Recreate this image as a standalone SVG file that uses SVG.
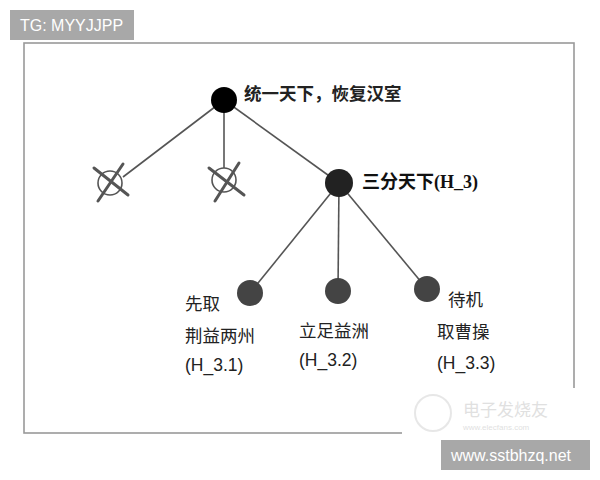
<svg xmlns="http://www.w3.org/2000/svg" width="600" height="480" viewBox="0 0 600 480">
<style>
.lbl{font-family:"Liberation Sans","Noto Sans CJK SC",sans-serif;font-size:17.5px;fill:#222;}
.ser{font-family:"Liberation Serif","Noto Sans CJK SC",serif;font-size:18px;fill:#111;font-weight:bold;}
.edge{stroke:#555;stroke-width:1.6;fill:none;}
.cross{stroke:#555;stroke-width:3;stroke-linecap:round;}
.ring{stroke:#555;stroke-width:1.6;fill:#fff;}
.leaf{fill:#444;}
.wm{font-family:"Liberation Sans",sans-serif;font-size:16px;fill:#fff;}
</style>
<rect x="0" y="0" width="600" height="480" fill="#fff"/>
<rect x="24" y="43" width="550" height="390" fill="none" stroke="#999" stroke-width="1.6"/>
<g id="connectors">
<line class="edge" x1="224" y1="100" x2="123" y2="177"/>
<line class="edge" x1="224" y1="100" x2="224" y2="168"/>
<line class="edge" x1="224" y1="100" x2="339" y2="183"/>
<line class="edge" x1="339" y1="183" x2="250" y2="293"/>
<line class="edge" x1="339" y1="183" x2="338" y2="291"/>
<line class="edge" x1="339" y1="183" x2="427" y2="289"/>
</g>
<g id="root">
<circle cx="224" cy="100" r="13" fill="#000"/>
<text class="lbl" x="244" y="100" font-size="18" font-weight="bold">统一天下，恢复汉室</text>
</g>
<g id="pruned1">
<circle class="ring" cx="110" cy="183" r="12"/>
<line class="cross" x1="94" y1="168" x2="128" y2="195"/>
<line class="cross" x1="123" y1="164" x2="98" y2="201"/>
</g>
<g id="pruned2">
<circle class="ring" cx="224" cy="180" r="12"/>
<line class="cross" x1="209" y1="168" x2="244" y2="195"/>
<line class="cross" x1="239" y1="163" x2="215" y2="201"/>
</g>
<g id="h3">
<circle cx="339" cy="183" r="14" fill="#222"/>
<text class="ser" x="362" y="188">三分天下(H_3)</text>
</g>
<g id="h31">
<circle class="leaf" cx="250" cy="293" r="13"/>
<text class="lbl" x="185" y="310">先取</text>
<text class="lbl" x="185" y="342">荆益两州</text>
<text class="lbl" x="185" y="371">(H_3.1)</text>
</g>
<g id="h32">
<circle class="leaf" cx="338" cy="291" r="13"/>
<text class="lbl" x="299" y="337">立足益洲</text>
<text class="lbl" x="299" y="366">(H_3.2)</text>
</g>
<g id="h33">
<circle class="leaf" cx="427" cy="289" r="13"/>
<text class="lbl" x="448" y="306">待机</text>
<text class="lbl" x="437" y="338">取曹操</text>
<text class="lbl" x="437" y="369">(H_3.3)</text>
</g>
<rect x="402" y="388" width="180" height="50" fill="#fff"/>
<g opacity="0.45">
<circle cx="433" cy="413" r="18" fill="none" stroke="#ccc" stroke-width="2"/>
<text x="463" y="416" font-family="Noto Sans CJK SC,sans-serif" font-size="17" fill="#bbb">电子发烧友</text>
<text x="463" y="430" font-family="Liberation Sans,sans-serif" font-size="8" fill="#bbb">www.elecfans.com</text>
</g>
<rect x="10" y="10" width="124" height="30" fill="#a8a8a8"/>
<text class="wm" x="20" y="31">TG: MYYJJPP</text>
<rect x="441" y="440" width="149" height="30" fill="#a8a8a8"/>
<text class="wm" x="451" y="461">www.sstbhzq.net</text>
</svg>
